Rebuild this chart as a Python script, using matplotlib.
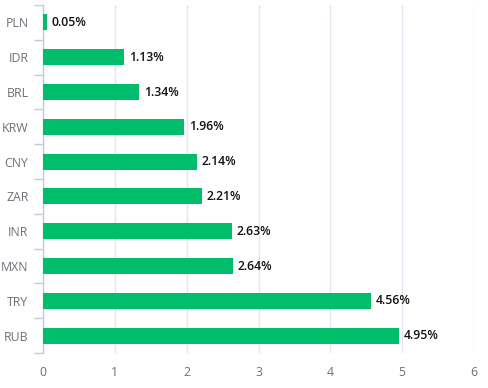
import numpy as np
import matplotlib.pyplot as plt
from matplotlib.ticker import FixedLocator

# Datos (de arriba hacia abajo)
monedas = ["PLN", "IDR", "BRL", "KRW", "CNY", "ZAR", "INR", "MXN", "TRY", "RUB"]
valores = [0.05, 1.13, 1.34, 1.96, 2.14, 2.21, 2.63, 2.64, 4.56, 4.95]
ticks_x = [0, 1, 2, 3, 4, 5, 6]

plt.rcParams['font.family'] = ['Open Sans', 'DejaVu Sans']

fig = plt.figure(figsize=(4.88, 3.88), dpi=100)
ax = fig.add_axes([43 / 488, 1 - 353 / 388, (474 - 43) / 488, (353 - 5) / 388])

y = np.arange(len(monedas))
ax.barh(y, valores, height=0.46, color='#00bd6b', zorder=3)

for yi, v in zip(y, valores):
    ax.text(v + 0.07, yi, f"{v:.2f}%", va='center', ha='left', fontsize=8.8,
            color='#111111', fontweight='semibold', zorder=4)

ax.set_ylim(len(monedas) - 0.5, -0.5)
ax.set_xlim(0, 6)
ax.set_yticks(y)
ax.set_yticklabels(monedas)
ax.yaxis.set_minor_locator(FixedLocator(np.arange(-0.5, len(monedas), 1)))
ax.tick_params(axis='y', which='major', length=0, pad=10.5, labelsize=8.8, labelcolor='#6e7079')
ax.tick_params(axis='y', which='minor', length=6.5, color='#c3cbda', width=1)

ax.set_xticks(ticks_x)
ax.tick_params(axis='x', length=0, pad=9, labelsize=8.8, labelcolor='#6e7079')
ax.grid(axis='x', color='#e0e6f1', linewidth=1, zorder=0)

for s in ['top', 'right', 'bottom']:
    ax.spines[s].set_visible(False)
ax.spines['left'].set_color('#c3cbda')
ax.spines['left'].set_linewidth(1)

fig.savefig("out.png", dpi=100)
